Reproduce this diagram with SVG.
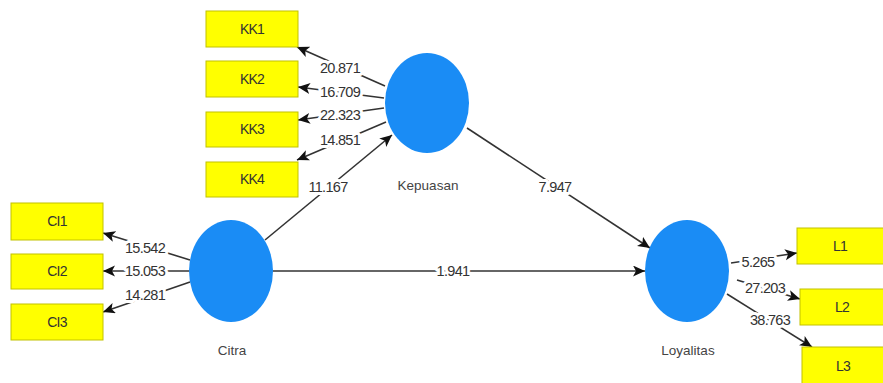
<svg xmlns="http://www.w3.org/2000/svg" width="883" height="383" viewBox="0 0 883 383">
<style>
.box{fill:#ffff00;stroke:#c2c200;stroke-width:1}
.lv{fill:#1a8cf5}
.bt{font-family:"Liberation Sans",Arial,sans-serif;font-size:14px;fill:#333;text-anchor:middle;letter-spacing:-0.8px}
.nt{font-family:"Liberation Sans",Arial,sans-serif;font-size:13.5px;fill:#444;text-anchor:middle}
.edge{stroke:#333;stroke-width:1.6;fill:none;marker-end:url(#arr)}
.el{font-family:"Liberation Sans",Arial,sans-serif;font-size:14.5px;fill:#333;text-anchor:middle;letter-spacing:-0.7px;stroke:#fff;stroke-width:6;paint-order:stroke;stroke-linejoin:round}
</style>
<defs>
<marker id="arr" markerUnits="userSpaceOnUse" markerWidth="13" markerHeight="12" refX="12" refY="5.5" orient="auto">
<path d="M0,0 L12,5.5 L0,11 L3,5.5 z" fill="#111"/>
</marker>
</defs>
<rect width="883" height="383" fill="#fff"/>
<g id="connectors">
<line class="edge" x1="385" y1="86" x2="297" y2="47"/>
<line class="edge" x1="384" y1="98" x2="298" y2="87"/>
<line class="edge" x1="384" y1="108" x2="298" y2="120"/>
<line class="edge" x1="386" y1="122" x2="297" y2="160"/>
<line class="edge" x1="265" y1="240" x2="392" y2="135"/>
<line class="edge" x1="467" y1="128" x2="650" y2="248"/>
<line class="edge" x1="273" y1="271" x2="645" y2="271"/>
<line class="edge" x1="190" y1="260" x2="103" y2="233"/>
<line class="edge" x1="190" y1="271" x2="103" y2="271"/>
<line class="edge" x1="190" y1="282" x2="103" y2="312"/>
<line class="edge" x1="731" y1="263" x2="797" y2="253"/>
<line class="edge" x1="737" y1="280" x2="800" y2="299"/>
<line class="edge" x1="727" y1="294" x2="812" y2="347"/>
<text class="el" x="340" y="73">20.871</text>
<text class="el" x="340" y="97">16.709</text>
<text class="el" x="340" y="120">22.323</text>
<text class="el" x="340" y="145">14.851</text>
<text class="el" x="328" y="192">11.167</text>
<text class="el" x="555" y="192">7.947</text>
<text class="el" x="453" y="276">1.941</text>
<text class="el" x="145" y="253">15.542</text>
<text class="el" x="145" y="276">15.053</text>
<text class="el" x="145" y="300">14.281</text>
<text class="el" x="758" y="267">5.265</text>
<text class="el" x="765" y="293">27.203</text>
<text class="el" x="770" y="325">38.763</text>
</g>
<g id="KK1"><rect class="box" x="206" y="11" width="92" height="36"/><text class="bt" x="252" y="34">KK1</text></g>
<g id="KK2"><rect class="box" x="206" y="61" width="92" height="36"/><text class="bt" x="252" y="84">KK2</text></g>
<g id="KK3"><rect class="box" x="206" y="112" width="92" height="35"/><text class="bt" x="252" y="134">KK3</text></g>
<g id="KK4"><rect class="box" x="206" y="162" width="92" height="35"/><text class="bt" x="252" y="184">KK4</text></g>
<g id="CI1"><rect class="box" x="11" y="203" width="92" height="37"/><text class="bt" x="57" y="226">CI1</text></g>
<g id="CI2"><rect class="box" x="11" y="254" width="92" height="35"/><text class="bt" x="57" y="276">CI2</text></g>
<g id="CI3"><rect class="box" x="11" y="304" width="92" height="36"/><text class="bt" x="57" y="327">CI3</text></g>
<g id="L1"><rect class="box" x="797" y="228" width="92" height="36"/><text class="bt" x="840" y="251">L1</text></g>
<g id="L2"><rect class="box" x="800" y="289" width="92" height="36"/><text class="bt" x="842" y="312">L2</text></g>
<g id="L3"><rect class="box" x="802" y="347" width="92" height="40"/><text class="bt" x="843" y="371">L3</text></g>
<g id="Kepuasan"><ellipse class="lv" cx="427" cy="103" rx="42" ry="50"/><text class="nt" x="428" y="190">Kepuasan</text></g>
<g id="Citra"><ellipse class="lv" cx="231" cy="271" rx="42" ry="51"/><text class="nt" x="232" y="355">Citra</text></g>
<g id="Loyalitas"><ellipse class="lv" cx="687" cy="271" rx="42" ry="51"/><text class="nt" x="688" y="355">Loyalitas</text></g>
</svg>
